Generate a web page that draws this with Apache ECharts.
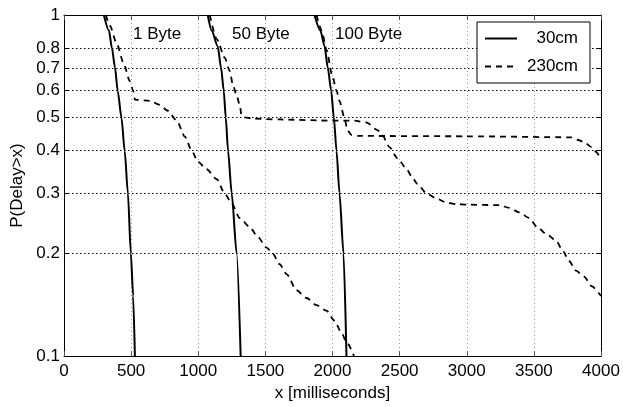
<!DOCTYPE html>
<html>
<head>
<meta charset="utf-8">
<script src="https://cdn.jsdelivr.net/npm/echarts@6/dist/echarts.min.js"></script>
<style>
  html, body { margin: 0; padding: 0; background: #fff; }
  #delay-chart { width: 623px; height: 407px; }
</style>
</head>
<body>
<div id="delay-chart"></div>
<script>
// P(Delay > x) readings, [x in ms, probability]
var byte1Short = [[297, 1], [335, 0.9], [357, 0.8], [380, 0.7], [400, 0.6], [428, 0.5], [452, 0.4], [476, 0.3], [498, 0.2], [515, 0.15], [528, 0.1]];
var byte1Long = [[312, 1], [342, 0.93], [395, 0.82], [445, 0.72], [490, 0.64], [515, 0.6], [528, 0.565], [640, 0.56], [714, 0.545], [773, 0.524], [840, 0.49], [900, 0.44], [952, 0.4], [996, 0.372], [1063, 0.353], [1138, 0.33], [1197, 0.3], [1249, 0.28], [1309, 0.254], [1383, 0.239], [1442, 0.224], [1509, 0.208], [1554, 0.2], [1606, 0.186], [1658, 0.174], [1732, 0.156], [1807, 0.148], [1881, 0.141], [1955, 0.136], [2015, 0.127], [2067, 0.117], [2104, 0.11], [2160, 0.1]];
var byte50Short = [[1071, 1], [1100, 0.9], [1145, 0.81], [1170, 0.7], [1190, 0.6], [1205, 0.5], [1222, 0.4], [1249, 0.3], [1286, 0.2], [1316, 0.1]];
var byte50Long = [[1086, 1], [1138, 0.85], [1197, 0.75], [1234, 0.686], [1260, 0.62], [1286, 0.58], [1309, 0.545], [1323, 0.506], [1360, 0.5], [1405, 0.497], [1606, 0.494], [2000, 0.49], [2164, 0.49], [2253, 0.484], [2335, 0.46], [2372, 0.444], [2424, 0.41], [2484, 0.38], [2550, 0.355], [2588, 0.337], [2632, 0.32], [2699, 0.3], [2773, 0.29], [2848, 0.282], [2922, 0.279], [3000, 0.278], [3242, 0.277], [3316, 0.272], [3390, 0.264], [3465, 0.254], [3524, 0.239], [3599, 0.227], [3665, 0.218], [3717, 0.203], [3762, 0.19], [3814, 0.178], [3874, 0.171], [3933, 0.16], [4000, 0.15]];
var byte100Short = [[1866, 1], [1910, 0.9], [1941, 0.81], [1965, 0.7], [1990, 0.6], [2010, 0.5], [2030, 0.4], [2052, 0.3], [2082, 0.2], [2104, 0.1]];
var byte100Long = [[1881, 1], [1920, 0.9], [1955, 0.79], [2000, 0.66], [2030, 0.6], [2052, 0.56], [2089, 0.5], [2111, 0.46], [2140, 0.445], [2200, 0.442], [3000, 0.441], [3780, 0.438], [3830, 0.43], [3874, 0.424], [3930, 0.41], [3963, 0.397], [4000, 0.377]];

var yTicks = [0.1, 0.2, 0.3, 0.4, 0.5, 0.6, 0.7, 0.8, 1];
var legendNames = ['30cm', '230cm'];
var sizeLabels = ['1 Byte', '50 Byte', '100 Byte'];

var FONT = 'Liberation Sans';

function lineSeries(name, data, dashed) {
  return {
    name: name,
    type: 'line',
    data: data,
    showSymbol: false,
    symbol: 'none',
    smooth: 0.25,
    smoothMonotone: 'x',
    animation: false,
    itemStyle: { color: '#000' },
    lineStyle: {
      color: '#000',
      width: dashed ? 1.8 : 2,
      type: dashed ? [6, 5] : 'solid'
    }
  };
}

function xAxisCfg(pos, main) {
  return {
    type: 'value',
    position: pos,
    min: 0,
    max: 4000,
    interval: 500,
    axisLine: { show: true, onZero: false, lineStyle: { color: '#000', width: 1 } },
    axisTick: { show: true, inside: true, length: 5, lineStyle: { color: '#555' } },
    splitLine: main ? { show: true, lineStyle: { color: '#999', type: [1, 3], width: 1 } } : { show: false },
    axisLabel: main ? {
      show: true,
      margin: 7,
      fontFamily: FONT,
      fontSize: 17,
      color: '#000',
      formatter: function (v) { return String(v); }
    } : { show: false }
  };
}

function yAxisCfg(pos, main) {
  return {
    type: 'log',
    logBase: 10,
    position: pos,
    min: 0.1,
    max: 1,
    axisLine: { show: true, onZero: false, lineStyle: { color: '#000', width: 1 } },
    axisTick: { show: true, inside: true, length: 5, customValues: yTicks, lineStyle: { color: '#000' } },
    splitLine: main ? { show: true, lineStyle: { color: '#000', type: [1.5, 2.5], width: 1 } } : { show: false },
    axisLabel: main ? {
      show: true,
      margin: 4,
      customValues: yTicks,
      fontFamily: FONT,
      fontSize: 17,
      color: '#000',
      formatter: function (v) { return String(+Number(v).toFixed(1)); }
    } : { show: false }
  };
}

var chart = echarts.init(document.getElementById('delay-chart'), null, { renderer: 'canvas' });

var options = {
  backgroundColor: '#fff',
  animation: false,
  grid: { left: 64, right: 22, top: 15, bottom: 43 },
  legend: {
    data: legendNames,
    orient: 'vertical',
    right: 33,
    top: 22,
    backgroundColor: '#fff',
    borderColor: '#000',
    borderWidth: 1,
    borderRadius: 0,
    padding: [8, 12, 8, 7],
    itemWidth: 32,
    itemHeight: 14,
    itemGap: 11,
    selectedMode: false,
    itemStyle: { opacity: 0 },
    textStyle: {
      fontFamily: FONT,
      fontSize: 17,
      color: '#000',
      rich: { r: { width: 56, align: 'right', fontFamily: FONT, fontSize: 17, color: '#000' } }
    },
    formatter: function (name) { return '{r|' + name + '}'; }
  },
  xAxis: [
    Object.assign(xAxisCfg('bottom', true), {
      name: 'x [milliseconds]',
      nameLocation: 'middle',
      nameGap: 26,
      nameTextStyle: { fontFamily: FONT, fontSize: 17, color: '#000' }
    }),
    xAxisCfg('top', false)
  ],
  yAxis: [
    Object.assign(yAxisCfg('left', true), {
      name: 'P(Delay>x)',
      nameLocation: 'middle',
      nameGap: 33,
      nameTextStyle: { fontFamily: FONT, fontSize: 17, color: '#000' }
    }),
    yAxisCfg('right', false)
  ],
  graphic: [
    { type: 'text', left: 133, top: 26, style: { text: sizeLabels[0], font: '17px "Liberation Sans"', fill: '#000' } },
    { type: 'text', left: 232, top: 26, style: { text: sizeLabels[1], font: '17px "Liberation Sans"', fill: '#000' } },
    { type: 'text', left: 335, top: 26, style: { text: sizeLabels[2], font: '17px "Liberation Sans"', fill: '#000' } }
  ],
  series: [
    lineSeries(legendNames[0], byte1Short, false),
    lineSeries(legendNames[0], byte50Short, false),
    lineSeries(legendNames[0], byte100Short, false),
    lineSeries(legendNames[1], byte1Long, true),
    lineSeries(legendNames[1], byte50Long, true),
    lineSeries(legendNames[1], byte100Long, true)
  ]
};

chart.setOption(options, true);
</script>
</body>
</html>
